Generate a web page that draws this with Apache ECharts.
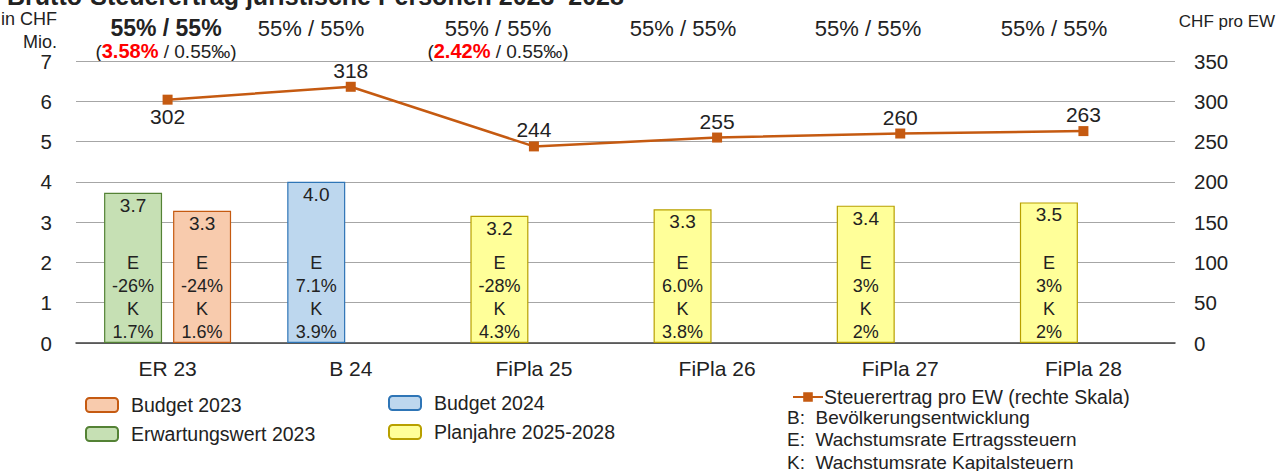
<!DOCTYPE html>
<html>
<head>
<meta charset="utf-8">
<script src="https://cdn.jsdelivr.net/npm/echarts@6/dist/echarts.min.js"></script>
<style>
  html, body { margin: 0; padding: 0; background: #fff; }
  #chart { width: 1276px; height: 471px; }
</style>
</head>
<body>
<div id="chart"></div>
<script>
// Brutto-Steuerertrag juristische Personen

var categories = ['ER 23', 'B 24', 'FiPla 25', 'FiPla 26', 'FiPla 27', 'FiPla 28'];

// CHF Mio.
var erwartung2023 = [3.73, null, null, null, null, null];
var budget2023 = [3.28, null, null, null, null, null];
var budget2024 = [null, 4.0, null, null, null, null];
var planjahre = [null, null, 3.16, 3.32, 3.41, 3.49];

// CHF pro EW (rechte Skala)
var steuerProEW = [302, 318, 244, 255, 260, 263];

// Wachstumsraten E / K, linker und rechter Balken
var leftE = ['-26%', '7.1%', '-28%', '6.0%', '3%', '3%'];
var leftK = ['1.7%', '3.9%', '4.3%', '3.8%', '2%', '2%'];
var rightE = ['-24%', null, null, null, null, null];
var rightK = ['1.6%', null, null, null, null, null];

// Kopfzeile
var topRates = ['55% / 55%', '55% / 55%', '55% / 55%', '55% / 55%', '55% / 55%', '55% / 55%'];
var popRates = ['3.58%', null, '2.42%', null, null, null];
var popPromille = '0.55‰';

var notes = [
  ['B:', 'Bevölkerungsentwicklung'],
  ['E:', 'Wachstumsrate Ertragssteuern'],
  ['K:', 'Wachstumsrate Kapitalsteuern']
];

var FONT = '"Liberation Sans", Arial, sans-serif';
var TXT = '#222';

var chart = echarts.init(document.getElementById('chart'), null, { renderer: 'svg' });

function leftTotal(i) {
  var v = [erwartung2023[i], budget2024[i], planjahre[i]];
  for (var k = 0; k < v.length; k++) if (v[k] != null) return v[k];
  return null;
}

function valueLabel() {
  return {
    show: true,
    position: 'insideTop',
    distance: 3,
    fontFamily: FONT,
    fontSize: 19,
    color: TXT,
    formatter: function (p) { return p.value == null ? '' : p.value.toFixed(1); }
  };
}

function barSeries(name, data, stack, fill, border) {
  return {
    name: name,
    type: 'bar',
    stack: stack,
    data: data,
    barWidth: 58,
    barGap: '19%',
    itemStyle: { color: fill, borderColor: border, borderWidth: 1.2 },
    label: valueLabel(),
    animation: false
  };
}

function ekSeries(name, totals, eArr, kArr) {
  return {
    name: name,
    type: 'bar',
    xAxisIndex: 1,
    yAxisIndex: 0,
    data: totals,
    barWidth: 58,
    barGap: '19%',
    silent: true,
    itemStyle: { color: 'rgba(0,0,0,0)' },
    label: {
      show: true,
      position: 'insideBottom',
      distance: 0,
      fontFamily: FONT,
      fontSize: 18,
      lineHeight: 23,
      color: TXT,
      formatter: function (p) {
        var i = p.dataIndex;
        if (eArr[i] == null) return '';
        return 'E\n' + eArr[i] + '\nK\n' + kArr[i];
      }
    },
    animation: false
  };
}

var leftTotals = categories.map(function (c, i) { return leftTotal(i); });

// Positionen der Kopfzeilen-Texte (Pixel)
var topX = [166, 311, 498, 683, 868, 1054];

var graphics = [];
topRates.forEach(function (t, i) {
  graphics.push({
    type: 'text', x: topX[i], y: 28,
    style: {
      text: t, fontFamily: FONT, fontSize: i === 0 ? 23 : 22,
      fontWeight: i === 0 ? 'bold' : 'normal',
      fill: TXT, align: 'center', verticalAlign: 'middle'
    }
  });
  if (popRates[i] != null) {
    graphics.push({
      type: 'text', x: topX[i], y: 51,
      style: {
        text: '{p|(}{r|' + popRates[i] + '}{p| / ' + popPromille + ')}',
        align: 'center', verticalAlign: 'middle',
        rich: {
          p: { fontFamily: FONT, fontSize: 19, fill: TXT },
          r: { fontFamily: FONT, fontSize: 20, fontWeight: 'bold', fill: '#FF0000' }
        }
      }
    });
  }
});
graphics.push({
  type: 'text', x: 57, y: 30,
  style: {
    text: 'in CHF\nMio.', fontFamily: FONT, fontSize: 18, lineHeight: 23,
    fill: TXT, align: 'right', verticalAlign: 'middle'
  }
});
graphics.push({
  type: 'text', x: 1227, y: 21,
  style: {
    text: 'CHF pro EW', fontFamily: FONT, fontSize: 17,
    fill: TXT, align: 'center', verticalAlign: 'middle'
  }
});
notes.forEach(function (n, i) {
  graphics.push({
    type: 'text', x: 787, y: 417 + i * 22.5,
    style: {
      text: n[0] + '  ' + n[1], fontFamily: FONT, fontSize: 19,
      fill: TXT, align: 'left', verticalAlign: 'middle'
    }
  });
});

chart.setOption({
  title: {
    text: 'Brutto-Steuerertrag juristische Personen 2023–2028',
    left: 2,
    top: -22,
    textStyle: { fontFamily: FONT, fontSize: 25, fontWeight: 'bold', color: TXT }
  },
  grid: { left: 76, right: 101, top: 61, height: 282, containLabel: false },
  legend: [
    {
      data: ['Budget 2023', 'Erwartungswert 2023'],
      orient: 'vertical', left: 80, top: 390, itemGap: 9,
      itemWidth: 32, itemHeight: 14,
      textStyle: { fontFamily: FONT, fontSize: 19.5, color: TXT, padding: [0, 0, 0, 8] },
      selectedMode: false
    },
    {
      data: ['Budget 2024', 'Planjahre 2025-2028'],
      orient: 'vertical', left: 383, top: 388, itemGap: 9,
      itemWidth: 32, itemHeight: 14,
      textStyle: { fontFamily: FONT, fontSize: 19.5, color: TXT, padding: [0, 0, 0, 8] },
      selectedMode: false
    },
    {
      data: ['Steuerertrag pro EW (rechte Skala)'],
      left: 787, top: 382,
      itemWidth: 30, itemHeight: 12, itemGap: 0,
      textStyle: { fontFamily: FONT, fontSize: 19.5, color: TXT, padding: [0, 0, 0, -4] },
      selectedMode: false
    }
  ],
  xAxis: [
    {
      type: 'category',
      data: categories,
      axisTick: { show: false },
      axisLine: { lineStyle: { color: '#404040', width: 1.5 } },
      axisLabel: { fontFamily: FONT, fontSize: 21, color: TXT, margin: 15 }
    },
    {
      type: 'category',
      data: categories,
      show: false
    }
  ],
  yAxis: [
    {
      type: 'value', min: 0, max: 7, interval: 1,
      axisLine: { show: false }, axisTick: { show: false },
      axisLabel: { fontFamily: FONT, fontSize: 20.5, color: TXT, margin: 24 },
      splitLine: { lineStyle: { color: '#A6A6A6', width: 1.2 } }
    },
    {
      type: 'value', min: 0, max: 350, interval: 50,
      axisLine: { show: false }, axisTick: { show: false },
      axisLabel: { fontFamily: FONT, fontSize: 20.5, color: TXT, margin: 19 },
      splitLine: { show: false }
    }
  ],
  series: [
    barSeries('Erwartungswert 2023', erwartung2023, 'left', '#C6E0B4', '#548235'),
    barSeries('Budget 2024', budget2024, 'left', '#BDD7EE', '#2E75B6'),
    barSeries('Planjahre 2025-2028', planjahre, 'left', '#FFFF99', '#B8A000'),
    barSeries('Budget 2023', budget2023, 'right', '#F8CBAD', '#C55A11'),
    ekSeries('ek-left', leftTotals, leftE, leftK),
    ekSeries('ek-right', budget2023, rightE, rightK),
    {
      name: 'Steuerertrag pro EW (rechte Skala)',
      type: 'line',
      xAxisIndex: 0,
      yAxisIndex: 1,
      data: steuerProEW.map(function (v, i) {
        return i === 0 ? { value: v, label: { position: 'bottom' } } : v;
      }),
      symbol: 'rect',
      symbolSize: 10,
      lineStyle: { color: '#C55A11', width: 2.5 },
      itemStyle: { color: '#C55A11' },
      label: {
        show: true,
        fontFamily: FONT, fontSize: 21, color: TXT,
        position: 'top', distance: 1,
        formatter: '{c}'
      },
      z: 5,
      animation: false
    }
  ],
  graphic: graphics,
  animation: false
});
</script>
</body>
</html>
